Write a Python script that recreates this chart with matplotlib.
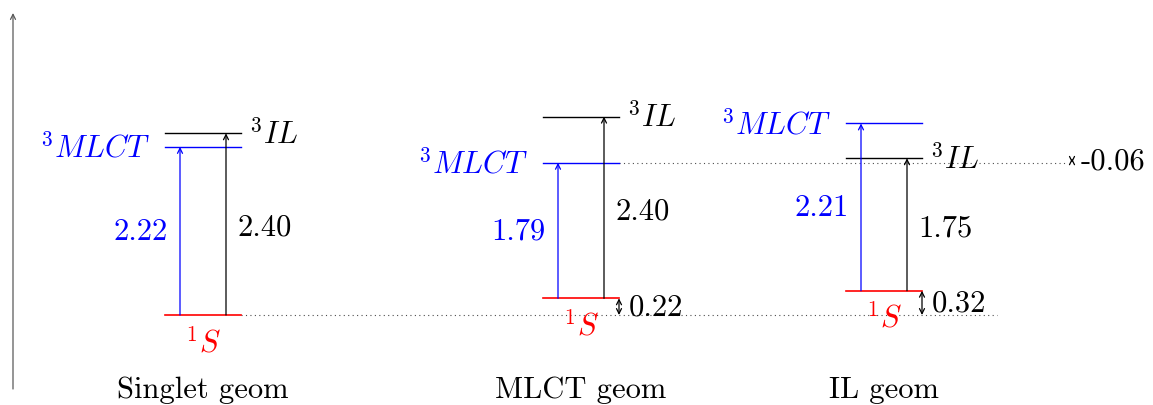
import matplotlib.pyplot as plt
import numpy as np

plt.rcParams['mathtext.fontset'] = 'cm'

# energies in eV, relative to 1S at singlet geometry
geoms = ['Singlet geom', 'MLCT geom', 'IL geom']
s1 = np.array([0.0, 0.22, 0.32])
mlct_gap = np.array([2.22, 1.79, 2.21])
il_gap = np.array([2.40, 2.40, 1.75])
gap_labels_mlct = ['2.22', '1.79', '2.21']
gap_labels_il = ['2.40', '2.40', '1.75']
shift_labels = ['', '0.22', '0.32']
il_vs_mlct = '-0.06'

mlct = s1 + mlct_gap
il = s1 + il_gap

# layout (pixel-like x units, eV on y)
xc = [203, 581, 884]
hw = 38
px_per_ev = 75.7
fs = 22
tfont = 'cmr10'

fig = plt.figure(figsize=(11.53, 4.06), dpi=100)
ax = fig.add_axes([0, 0, 1, 1])
ax.set_xlim(0, 1153)
ax.set_ylim(-90 / px_per_ev, 316 / px_per_ev)
ax.axis('off')

def arrow(x, y0, y1, c, style='->'):
    ax.annotate('', xy=(x, y1), xytext=(x, y0),
                arrowprops=dict(arrowstyle=style, color=c, lw=0.9,
                                shrinkA=0, shrinkB=0, mutation_scale=9))

# energy axis
arrow(13, -74 / px_per_ev, 302 / px_per_ev, '0.35')

# reference dotted lines
ax.plot([xc[0] + hw, 997], [0, 0], ls=(0, (1, 3)), color='0.3', lw=0.8)
ax.plot([xc[1] + hw, 1067], [mlct[1], mlct[1]], ls=(0, (1, 3)), color='0.3', lw=0.8)

for i in range(3):
    x0, x1 = xc[i] - hw, xc[i] + hw
    ax.plot([x0, x1], [s1[i]] * 2, color='red', lw=1.2)
    ax.plot([x0, x1], [mlct[i]] * 2, color='blue', lw=1.0)
    ax.plot([x0, x1], [il[i]] * 2, color='black', lw=1.0)

    xb, xk = x0 + 15, x0 + 61
    arrow(xb, s1[i], mlct[i], 'blue')
    arrow(xk, s1[i], il[i], 'black')

    # state labels
    ax.annotate(r'$^3MLCT$', (x0, mlct[i]), xytext=(-11, 0), textcoords='offset points',
                ha='right', va='center', color='blue', fontsize=fs)
    ax.annotate(r'$^3IL$', (x1, il[i]), xytext=(6, 0), textcoords='offset points',
                ha='left', va='center', color='black', fontsize=fs)
    ax.annotate(r'$^1S$', (xc[i], s1[i]), xytext=(0, -19), textcoords='offset points',
                ha='center', va='center', color='red', fontsize=fs)

    # gap labels
    ax.annotate(gap_labels_mlct[i], (xb, (s1[i] + mlct[i]) / 2), xytext=(-9, 0),
                textcoords='offset points', ha='right', va='center', color='blue',
                fontsize=fs, family=tfont)
    ax.annotate(gap_labels_il[i], (xk, (s1[i] + il[i]) / 2), xytext=(8, -2),
                textcoords='offset points', ha='left', va='center', color='black',
                fontsize=fs, family=tfont)

    # shift of 1S relative to singlet geometry
    if shift_labels[i]:
        arrow(x1, 0, s1[i], 'black', '<->')
        ax.annotate(shift_labels[i], (x1, s1[i] / 2), xytext=(7, 0),
                    textcoords='offset points', ha='left', va='center',
                    fontsize=fs, family=tfont)

    ax.text(xc[i], -82 / px_per_ev, geoms[i], ha='center', va='baseline',
            fontsize=fs, family=tfont)

# 3IL (IL geom) vs 3MLCT (MLCT geom)
arrow(1072, mlct[1], il[2], 'black', '<->')
ax.annotate(il_vs_mlct, (1072, (mlct[1] + il[2]) / 2), xytext=(6, 0),
            textcoords='offset points', ha='left', va='center',
            fontsize=fs, family=tfont)

fig.savefig('out.png', dpi=100)
